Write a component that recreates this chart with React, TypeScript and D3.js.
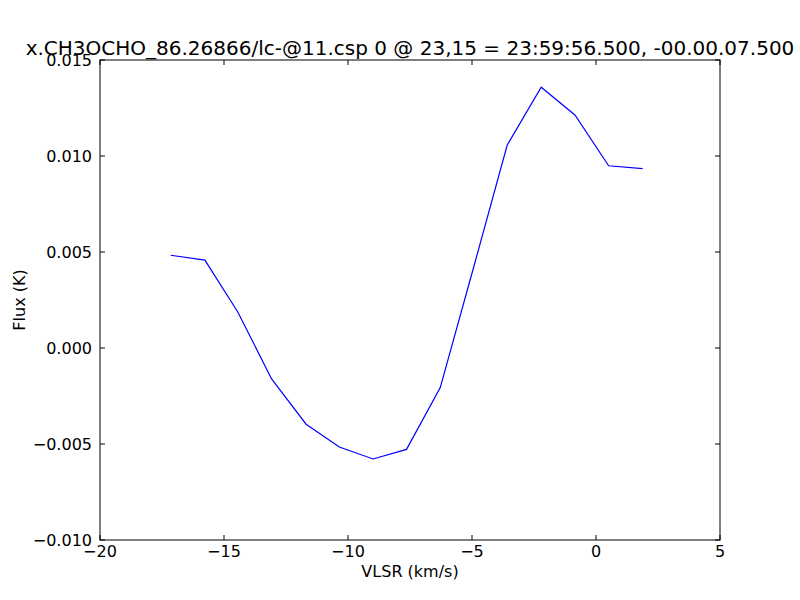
import React from "react";
import * as d3 from "d3";

const velocity = [-17.15, -15.77, -14.45, -13.08, -11.69, -10.35, -8.99, -7.64, -6.28, -4.92, -3.58, -2.21, -0.85, 0.51, 1.88];
const flux = [0.00483, 0.00458, 0.00189, -0.00161, -0.00397, -0.00516, -0.00578, -0.00528, -0.00206, 0.00427, 0.01057, 0.01358, 0.01214, 0.00949, 0.00934];
const xTicks = [-20, -15, -10, -5, 0, 5];
const yTicks = [-0.01, -0.005, 0, 0.005, 0.01, 0.015];
const title = "x.CH3OCHO_86.26866/lc-@11.csp 0 @ 23,15 = 23:59:56.500, -00.00.07.500";

const W = 800, H = 600;
const L = 100, R = 720, T = 60, B = 540;
const FONT = "DejaVu Sans";

export default function App() {
  const x = d3.scaleLinear().domain([-20, 5]).range([L, R]);
  const y = d3.scaleLinear().domain([-0.01, 0.015]).range([B, T]);
  const line = d3.line<number>().x((_, i) => x(velocity[i])).y((d) => y(d));
  const fmtX = (v: number) => (v < 0 ? "\u2212" + Math.abs(v) : String(v));
  const fmtY = (v: number) => {
    const s = Math.abs(v).toFixed(3);
    return (v < -1e-12 ? "\u2212" : "") + s;
  };
  const tl = 5;
  return (
    <svg width={W} height={H} style={{ position: "absolute", left: 0, top: 0, background: "#fff" }} fontFamily={FONT}>
      <rect x={0} y={0} width={W} height={H} fill="#fff" />
      <path d={line(flux) || ""} fill="none" stroke="#0000ff" strokeWidth={1.2} />
      {xTicks.map((t) => (
        <g key={"x" + t}>
          <line x1={x(t)} x2={x(t)} y1={B} y2={B - tl} stroke="#000" />
          <line x1={x(t)} x2={x(t)} y1={T} y2={T + tl} stroke="#000" />
          <text x={x(t)} y={557} fontSize={16} textAnchor="middle">{fmtX(t)}</text>
        </g>
      ))}
      {yTicks.map((t) => (
        <g key={"y" + t}>
          <line x1={L} x2={L + tl} y1={y(t)} y2={y(t)} stroke="#000" />
          <line x1={R} x2={R - tl} y1={y(t)} y2={y(t)} stroke="#000" />
          <text x={92} y={y(t) + 6} fontSize={16} textAnchor="end">{fmtY(t)}</text>
        </g>
      ))}
      <rect x={L} y={T} width={R - L} height={B - T} fill="none" stroke="#000" strokeWidth={1} />
      <text x={410} y={577} fontSize={16} textAnchor="middle">VLSR (km/s)</text>
      <text transform={`translate(25,300) rotate(-90)`} fontSize={16} textAnchor="middle">Flux (K)</text>
      <text x={410} y={55} fontSize={20} textAnchor="middle">{title}</text>
    </svg>
  );
}
